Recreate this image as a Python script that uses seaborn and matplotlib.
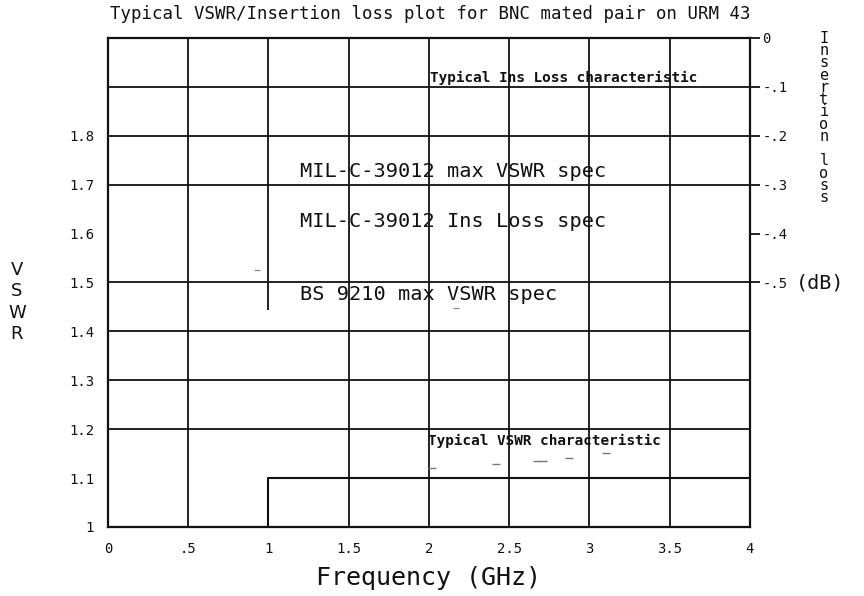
import matplotlib
matplotlib.use("Agg")
import matplotlib.pyplot as plt
import seaborn as sns
import pandas as pd

# ---------------- data ----------------
freq_ticks = [0, 0.5, 1, 1.5, 2, 2.5, 3, 3.5, 4]
freq_labels = ["0", ".5", "1", "1.5", "2", "2.5", "3", "3.5", "4"]
vswr_ticks = [1, 1.1, 1.2, 1.3, 1.4, 1.5, 1.6, 1.7, 1.8]
vswr_labels = ["1", "1.1", "1.2", "1.3", "1.4", "1.5", "1.6", "1.7", "1.8"]
loss_ticks = [0, -0.1, -0.2, -0.3, -0.4, -0.5]
loss_labels = ["0", "-.1", "-.2", "-.3", "-.4", "-.5"]

# grid lines as they appear on the plotter sheet
vswr_grid = [1.2, 1.3, 1.4, 1.5, 1.7, 1.8, 1.9]
freq_grid = [0.5, 1.5, 2, 2.5, 3, 3.5]
partial_freq = [1.0]
partial_from = [1.444]

# typical VSWR characteristic (step)
step_freq = [0, 1, 1, 4]
step_vswr = [1.0, 1.0, 1.1, 1.1]

# faint remnants of the typical VSWR trace
faint_freq = [2.02, 2.42, 2.67, 2.71, 2.87, 3.10]
faint_vswr = [1.120, 1.129, 1.135, 1.135, 1.141, 1.151]
speck_freq = [0.93, 2.17]
speck_vswr = [1.526, 1.448]

# ---------------- style ----------------
sns.set_theme(style="white")
plt.rcParams["font.family"] = ["DejaVu Sans Mono", "DejaVu Sans"]
INK = "#111111"

fig = plt.figure(figsize=(8.64, 5.96), dpi=100)
ax = fig.add_axes([0.125, 0.1158, 0.743, 0.8205])
ax.set_xlim(0, 4)
ax.set_ylim(1, 2)

# grid
ax.hlines(vswr_grid, 0, 4, color=INK, lw=1.3, zorder=1)
ax.vlines(freq_grid, 1, 2, color=INK, lw=1.3, zorder=1)
ax.vlines(partial_freq, partial_from, 2, color=INK, lw=1.3, zorder=1)

# step characteristic
step_df = pd.DataFrame({"f": step_freq, "v": step_vswr})
sns.lineplot(data=step_df, x="f", y="v", sort=False, estimator=None,
             color=INK, lw=1.5, ax=ax, zorder=2)

faint_df = pd.DataFrame({"f": faint_freq, "v": faint_vswr})
sns.scatterplot(data=faint_df, x="f", y="v", marker="_", s=30, color="#777777",
                linewidth=1.0, ax=ax, zorder=2)
speck_df = pd.DataFrame({"f": speck_freq, "v": speck_vswr})
sns.scatterplot(data=speck_df, x="f", y="v", marker="_", s=20, color="#888888",
                linewidth=0.9, ax=ax, zorder=2)

for s in ax.spines.values():
    s.set_color(INK)
    s.set_linewidth(1.6)

ax.set_xticks(freq_ticks)
ax.set_xticklabels(freq_labels, fontsize=10)
ax.set_yticks(vswr_ticks)
ax.set_yticklabels(vswr_labels, fontsize=10)
ax.tick_params(axis="x", length=0, pad=11, colors=INK)
ax.tick_params(axis="y", length=0, pad=10, colors=INK)
ax.set_xlabel("Frequency (GHz)", fontsize=18, labelpad=7, color=INK)
ax.set_ylabel("")

# right axis: insertion loss
ax2 = ax.twinx()
ax2.set_ylim(-1, 0)
ax2.set_yticks(loss_ticks)
ax2.set_yticklabels(loss_labels, fontsize=10)
ax2.tick_params(axis="y", direction="out", length=7, width=1.3, pad=2, colors=INK)
for s in ax2.spines.values():
    s.set_visible(False)
ax2.grid(False)
ax.grid(False)

# axis titles (stacked letters)
fig.text(17 / 864, 1 - 302 / 596, "\n".join("VSWR"), fontsize=13, ha="center",
         va="center", linespacing=1.25, color=INK, family=["DejaVu Sans"])
fig.text(824 / 864, 1 - 118 / 596, "\n".join("Insertion loss"), fontsize=11,
         ha="center", va="center", linespacing=0.77, color=INK)
fig.text(820 / 864, 1 - 283 / 596, "(dB)", fontsize=14.5, ha="center", va="center",
         color=INK)

# title
fig.text(430 / 864, 1 - 14 / 596,
         "Typical VSWR/Insertion loss plot for BNC mated pair on URM 43",
         fontsize=12.5, ha="center", va="center", color=INK)

# annotations
ax.text(1.196, 1.726, "MIL-C-39012 max VSWR spec", fontsize=14.6, va="center",
        ha="left", color=INK)
ax.text(1.196, 1.624, "MIL-C-39012 Ins Loss spec", fontsize=14.6, va="center",
        ha="left", color=INK)
ax.text(1.196, 1.476, "BS 9210 max VSWR spec", fontsize=14.6, va="center",
        ha="left", color=INK)
ax.text(2.006, 1.918, "Typical Ins Loss characteristic", fontsize=10.4,
        fontweight="bold", va="center", ha="left", color=INK)
ax.text(1.994, 1.176, "Typical VSWR characteristic", fontsize=10.4,
        fontweight="bold", va="center", ha="left", color=INK)

fig.savefig("out.png", dpi=100, facecolor="white")
